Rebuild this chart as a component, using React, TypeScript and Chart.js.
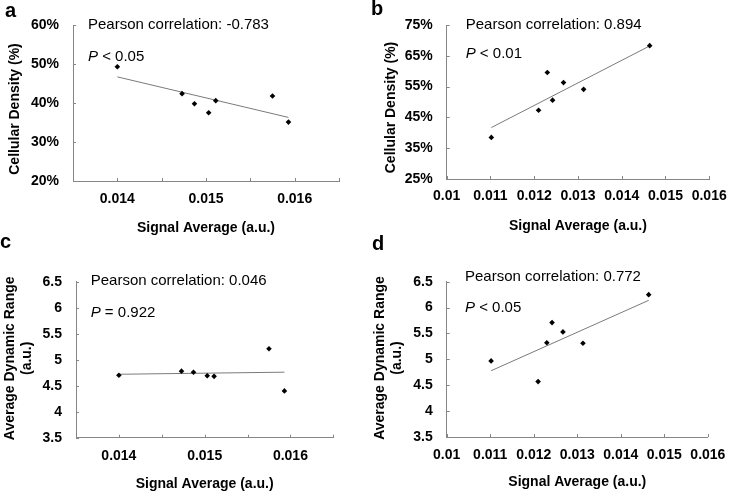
import { useEffect, useRef } from 'react';
import { Chart, registerables } from 'chart.js';

Chart.register(...registerables);

const FONT = '"Liberation Sans", Arial, Helvetica, sans-serif';
const AXIS_COLOR = '#868686';
const TREND_COLOR = '#7a7a7a';

// ---- Data: panel a (Cellular Density vs Signal Average)
const aSignal = [0.014, 0.01473, 0.01487, 0.01503, 0.01511, 0.01575, 0.01593];
const aDensity = [49.3, 42.4, 39.8, 37.5, 40.6, 41.8, 35.1];
const aTrendX = [0.014, 0.01593];
const aTrendY = [46.7, 36.3];

// ---- Data: panel b
const bSignal = [0.01102, 0.0121, 0.0123, 0.01242, 0.01267, 0.01313, 0.01464];
const bDensity = [38.5, 47.3, 59.6, 50.6, 56.3, 54.1, 68.3];
const bTrendX = [0.01102, 0.01464];
const bTrendY = [41.7, 68.2];

// ---- Data: panel c (Average Dynamic Range)
const cSignal = [0.014, 0.01473, 0.01487, 0.01503, 0.01511, 0.01575, 0.01593];
const cRange = [4.7, 4.78, 4.76, 4.69, 4.68, 5.21, 4.4];
const cTrendX = [0.014, 0.01593];
const cTrendY = [4.72, 4.76];

// ---- Data: panel d
const dSignal = [0.01102, 0.0121, 0.0123, 0.01242, 0.01267, 0.01313, 0.01464];
const dRange = [4.97, 4.57, 5.32, 5.71, 5.53, 5.31, 6.25];
const dTrendX = [0.01102, 0.01464];
const dTrendY = [4.78, 6.14];

// ---- Axis ticks
const acXTickValues = [0.014, 0.015, 0.016];
const acXTickLabels = ['0.014', '0.015', '0.016'];
const bdXTickValues = [0.01, 0.011, 0.012, 0.013, 0.014, 0.015, 0.016];
const bdXTickLabels = ['0.01', '0.011', '0.012', '0.013', '0.014', '0.015', '0.016'];
const aYTickValues = [20, 30, 40, 50, 60];
const aYTickLabels = ['20%', '30%', '40%', '50%', '60%'];
const bYTickValues = [25, 35, 45, 55, 65, 75];
const bYTickLabels = ['25%', '35%', '45%', '55%', '65%', '75%'];
const cdYTickValues = [3.5, 4, 4.5, 5, 5.5, 6, 6.5];
const cdYTickLabels = ['3.5', '4', '4.5', '5', '5.5', '6', '6.5'];

const X_TITLE = 'Signal Average (a.u.)';
const DENSITY_TITLE = ['Cellular Density (%)'];
const RANGE_TITLE = ['Average Dynamic Range', '(a.u.)'];

type Panel = {
  letter: string;
  box: { left: number; top: number; width: number; height: number };
  plot: { left: number; top: number; right: number; bottom: number };
  xs: number[];
  ys: number[];
  tx: number[];
  ty: number[];
  xMin: number;
  xMax: number;
  xStep: number;
  xTickValues: number[];
  xTickLabels: string[];
  yMin: number;
  yMax: number;
  yStep: number;
  yTickValues: number[];
  yTickLabels: string[];
  yTitle: string[];
  yTitleX: number;
  yTitleCenter: number;
  xLabelPad: number;
  xTitlePad: number;
  pearson: string;
  pRest: string;
  textX: number;
  textY1: number;
  textY2: number;
  letterX: number;
  letterY: number;
};

const panels: Panel[] = [
  {
    letter: 'a',
    box: { left: 0, top: 0, width: 367, height: 235 },
    plot: { left: 73, top: 25, right: 339, bottom: 181 },
    xs: aSignal, ys: aDensity, tx: aTrendX, ty: aTrendY,
    xMin: 0.0135, xMax: 0.0165, xStep: 0.0005,
    xTickValues: acXTickValues, xTickLabels: acXTickLabels,
    yMin: 20, yMax: 60, yStep: 10,
    yTickValues: aYTickValues, yTickLabels: aYTickLabels,
    yTitle: DENSITY_TITLE, yTitleX: 15, yTitleCenter: 109,
    xLabelPad: 9.6, xTitlePad: -1.4,
    pearson: 'Pearson correlation: -0.783', pRest: ' < 0.05',
    textX: 88, textY1: 25, textY2: 56.7,
    letterX: 5, letterY: 17,
  },
  {
    letter: 'b',
    box: { left: 370, top: 0, width: 365, height: 235 },
    plot: { left: 76.7, top: 25, right: 346.7, bottom: 179 },
    xs: bSignal, ys: bDensity, tx: bTrendX, ty: bTrendY,
    xMin: 0.01, xMax: 0.016, xStep: 0.001,
    xTickValues: bdXTickValues, xTickLabels: bdXTickLabels,
    yMin: 25, yMax: 75, yStep: 10,
    yTickValues: bYTickValues, yTickLabels: bYTickLabels,
    yTitle: DENSITY_TITLE, yTitleX: 20.7, yTitleCenter: 107.5,
    xLabelPad: 8.3, xTitlePad: 0.9,
    pearson: 'Pearson correlation: 0.894', pRest: ' < 0.01',
    textX: 95.7, textY1: 25, textY2: 54.3,
    letterX: 1, letterY: 15,
  },
  {
    letter: 'c',
    box: { left: 0, top: 235, width: 367, height: 256 },
    plot: { left: 76, top: 46.7, right: 333.3, bottom: 202.7 },
    xs: cSignal, ys: cRange, tx: cTrendX, ty: cTrendY,
    xMin: 0.0135, xMax: 0.0165, xStep: 0.0005,
    xTickValues: acXTickValues, xTickLabels: acXTickLabels,
    yMin: 3.5, yMax: 6.5, yStep: 0.5,
    yTickValues: cdYTickValues, yTickLabels: cdYTickLabels,
    yTitle: RANGE_TITLE, yTitleX: 10, yTitleCenter: 123.3,
    xLabelPad: 9.6, xTitlePad: -1.4,
    pearson: 'Pearson correlation: 0.046', pRest: ' = 0.922',
    textX: 90.7, textY1: 46, textY2: 77.7,
    letterX: 0, letterY: 13,
  },
  {
    letter: 'd',
    box: { left: 370, top: 235, width: 365, height: 256 },
    plot: { left: 76.7, top: 46.7, right: 342.3, bottom: 202 },
    xs: dSignal, ys: dRange, tx: dTrendX, ty: dTrendY,
    xMin: 0.01, xMax: 0.016, xStep: 0.001,
    xTickValues: bdXTickValues, xTickLabels: bdXTickLabels,
    yMin: 3.5, yMax: 6.5, yStep: 0.5,
    yTickValues: cdYTickValues, yTickLabels: cdYTickLabels,
    yTitle: RANGE_TITLE, yTitleX: 10, yTitleCenter: 123,
    xLabelPad: 9.6, xTitlePad: 0.3,
    pearson: 'Pearson correlation: 0.772', pRest: ' < 0.05',
    textX: 95, textY1: 41.7, textY2: 72.7,
    letterX: 2, letterY: 15,
  },
];

function lookup(values: number[], labels: string[], v: number): string {
  for (let i = 0; i < values.length; i++) {
    if (Math.abs(values[i] - v) < 1e-7) return labels[i];
  }
  return '';
}

function PanelChart({ p }: { p: Panel }) {
  const ref = useRef<HTMLCanvasElement>(null);
  useEffect(() => {
    const canvas = ref.current;
    if (!canvas) return;
    const decor = {
      id: 'decor-' + p.letter,
      afterDraw(chart: any) {
        const { ctx, chartArea, scales } = chart;
        const xs = scales.x;
        const ys = scales.y;
        ctx.save();
        // inward tick marks
        ctx.strokeStyle = AXIS_COLOR;
        ctx.lineWidth = 1;
        xs.ticks.forEach((t: any) => {
          const px = Math.round(xs.getPixelForValue(t.value)) + 0.5;
          ctx.beginPath();
          ctx.moveTo(px, chartArea.bottom);
          ctx.lineTo(px, chartArea.bottom - 3);
          ctx.stroke();
        });
        ys.ticks.forEach((t: any) => {
          const py = Math.round(ys.getPixelForValue(t.value)) + 0.5;
          ctx.beginPath();
          ctx.moveTo(chartArea.left, py);
          ctx.lineTo(chartArea.left + 3, py);
          ctx.stroke();
        });
        // y axis title
        ctx.fillStyle = '#000';
        ctx.font = 'bold 14px ' + FONT;
        ctx.textAlign = 'center';
        ctx.textBaseline = 'middle';
        p.yTitle.forEach((line, i) => {
          ctx.save();
          ctx.translate(p.yTitleX + i * 16.8, p.yTitleCenter);
          ctx.rotate(-Math.PI / 2);
          ctx.fillText(line, 0, 0);
          ctx.restore();
        });
        // annotations
        ctx.textAlign = 'left';
        ctx.font = '15px ' + FONT;
        ctx.fillText(p.pearson, p.textX, p.textY1);
        ctx.font = 'italic 15px ' + FONT;
        ctx.fillText('P', p.textX, p.textY2);
        const w = ctx.measureText('P').width;
        ctx.font = '15px ' + FONT;
        ctx.fillText(p.pRest, p.textX + w, p.textY2);
        // panel letter
        ctx.font = 'bold 20px ' + FONT;
        ctx.textBaseline = 'alphabetic';
        ctx.fillText(p.letter, p.letterX, p.letterY);
        ctx.restore();
      },
    };
    const tickFont = { family: FONT, size: 14, weight: 'bold' as const };
    const chart = new Chart(canvas, {
      type: 'scatter',
      data: {
        datasets: [
          {
            data: p.xs.map((x, i) => ({ x, y: p.ys[i] })),
            pointStyle: 'rectRot',
            pointRadius: 2.8,
            backgroundColor: '#000',
            borderColor: '#000',
            borderWidth: 0,
            order: 1,
          },
          {
            data: p.tx.map((x, i) => ({ x, y: p.ty[i] })),
            showLine: true,
            pointRadius: 0,
            borderColor: TREND_COLOR,
            backgroundColor: TREND_COLOR,
            borderWidth: 1,
            order: 2,
          },
        ],
      },
      options: {
        responsive: false,
        animation: false,
        devicePixelRatio: 1,
        events: [],
        layout: {
          padding: { left: 0, top: p.plot.top, right: p.box.width - p.plot.right, bottom: 0 },
        },
        plugins: { legend: { display: false }, tooltip: { enabled: false } },
        scales: {
          x: {
            type: 'linear',
            min: p.xMin,
            max: p.xMax,
            afterFit: (s: any) => {
              s.height = p.box.height - p.plot.bottom;
            },
            grid: { display: false, drawTicks: false },
            border: { display: true, color: AXIS_COLOR, width: 1 },
            ticks: {
              stepSize: p.xStep,
              autoSkip: false,
              maxRotation: 0,
              minRotation: 0,
              padding: p.xLabelPad,
              color: '#000',
              font: tickFont,
              callback: (v: any) => lookup(p.xTickValues, p.xTickLabels, Number(v)),
            },
            title: {
              display: true,
              text: X_TITLE,
              color: '#000',
              font: tickFont,
              padding: { top: 0, bottom: p.xTitlePad },
            },
          },
          y: {
            type: 'linear',
            min: p.yMin,
            max: p.yMax,
            afterFit: (s: any) => {
              s.width = p.plot.left;
            },
            grid: { display: false, drawTicks: false },
            border: { display: true, color: AXIS_COLOR, width: 1 },
            ticks: {
              stepSize: p.yStep,
              autoSkip: false,
              padding: 14,
              color: '#000',
              font: tickFont,
              callback: (v: any) => lookup(p.yTickValues, p.yTickLabels, Number(v)),
            },
          },
        },
      },
      plugins: [decor],
    } as any);
    return () => chart.destroy();
  }, [p]);
  return (
    <canvas
      ref={ref}
      width={p.box.width}
      height={p.box.height}
      style={{
        position: 'absolute',
        left: p.box.left,
        top: p.box.top,
        width: p.box.width,
        height: p.box.height,
      }}
    />
  );
}

export default function App() {
  return (
    <div
      style={{
        position: 'fixed',
        left: 0,
        top: 0,
        width: 735,
        height: 491,
        overflow: 'hidden',
        background: '#fff',
      }}
    >
      {panels.map((p) => (
        <PanelChart key={p.letter} p={p} />
      ))}
    </div>
  );
}
